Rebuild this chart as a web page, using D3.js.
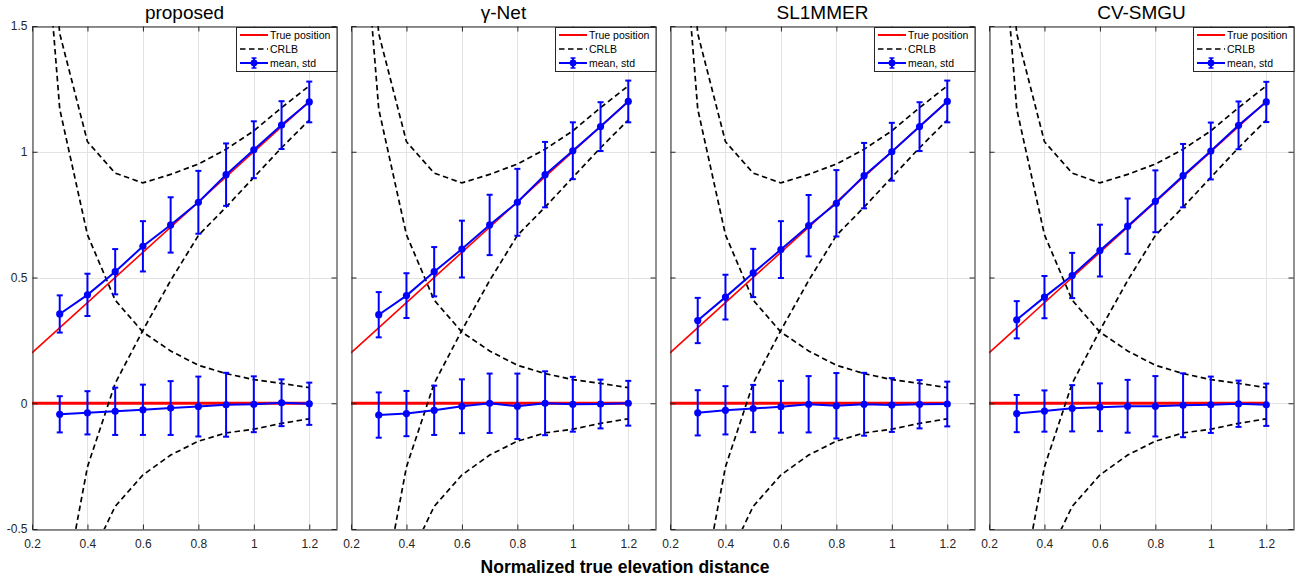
<!DOCTYPE html>
<html><head><meta charset="utf-8">
<script src="https://cdn.jsdelivr.net/npm/d3@7/dist/d3.min.js"></script>
<style>body{margin:0;background:#fff}svg{display:block}</style>
</head><body><svg id="c" width="1296" height="579"></svg>
<script>
// ---------------- data ----------------
const methods = ['proposed', 'γ-Net', 'SL1MMER', 'CV-SMGU'];
const xTickValues = [0.2, 0.4, 0.6, 0.8, 1.0, 1.2];
const xTickLabels = ['0.2', '0.4', '0.6', '0.8', '1', '1.2'];
const yTickValues = [-0.5, 0, 0.5, 1, 1.5];
const yTickLabels = ['-0.5', '0', '0.5', '1', '1.5'];
const legendLabels = ['True position', 'CRLB', 'mean, std'];
const xLabel = 'Normalized true elevation distance';

// true positions
const trueX = [0.2, 1.2];
const trueUpper = [0.2, 1.2];
const trueLower = [0, 0];

// CRLB bounds
const crlbX = [0.2, 0.3, 0.4, 0.5, 0.6, 0.7, 0.8, 0.9, 1.0, 1.1, 1.2];
const crlbUpperHi = [2.75, 1.47, 1.04, 0.915, 0.876, 0.91, 0.951, 1.01, 1.083, 1.175, 1.262];
const crlbUpperLo = [-2.35, -0.84, -0.253, 0.079, 0.29, 0.488, 0.667, 0.78, 0.898, 1.016, 1.126];
const crlbLowerHi = [2.55, 1.17, 0.67, 0.41, 0.283, 0.208, 0.151, 0.118, 0.094, 0.079, 0.062];
const crlbLowerLo = [-2.55, -1.17, -0.64, -0.41, -0.285, -0.206, -0.151, -0.118, -0.103, -0.08, -0.062];

// estimates (mean, std)
const estX = [0.3, 0.4, 0.5, 0.6, 0.7, 0.8, 0.9, 1.0, 1.1, 1.2];
const proposedUpperMean = [0.355, 0.431, 0.523, 0.624, 0.709, 0.799, 0.909, 1.008, 1.106, 1.198];
const proposedUpperStd  = [0.074, 0.084, 0.090, 0.100, 0.110, 0.125, 0.124, 0.113, 0.095, 0.081];
const proposedLowerMean = [-0.044, -0.038, -0.032, -0.026, -0.019, -0.013, -0.006, -0.004, 0.002, -0.002];
const proposedLowerStd  = [0.072, 0.086, 0.094, 0.100, 0.107, 0.119, 0.127, 0.111, 0.093, 0.084];

const gammaUpperMean = [0.352, 0.428, 0.523, 0.613, 0.709, 0.799, 0.909, 1.004, 1.100, 1.200];
const gammaUpperStd  = [0.090, 0.089, 0.098, 0.113, 0.120, 0.133, 0.130, 0.113, 0.097, 0.083];
const gammaLowerMean = [-0.047, -0.041, -0.028, -0.012, 0.000, -0.012, 0.000, -0.004, -0.003, 0.000];
const gammaLowerStd  = [0.090, 0.090, 0.098, 0.107, 0.118, 0.130, 0.127, 0.109, 0.097, 0.089];

const slimmerUpperMean = [0.329, 0.422, 0.518, 0.611, 0.706, 0.795, 0.905, 1.000, 1.100, 1.200];
const slimmerUpperStd  = [0.090, 0.089, 0.096, 0.113, 0.122, 0.132, 0.130, 0.115, 0.097, 0.083];
const slimmerLowerMean = [-0.038, -0.028, -0.021, -0.014, -0.004, -0.010, -0.004, -0.007, -0.004, -0.003];
const slimmerLowerStd  = [0.090, 0.096, 0.094, 0.103, 0.112, 0.130, 0.125, 0.107, 0.096, 0.089];

const cvsmguUpperMean = [0.332, 0.422, 0.508, 0.607, 0.704, 0.803, 0.905, 1.003, 1.105, 1.198];
const cvsmguUpperStd  = [0.074, 0.084, 0.090, 0.103, 0.110, 0.123, 0.126, 0.113, 0.095, 0.080];
const cvsmguLowerMean = [-0.041, -0.031, -0.020, -0.016, -0.012, -0.012, -0.008, -0.006, -0.002, -0.006];
const cvsmguLowerStd  = [0.074, 0.082, 0.092, 0.095, 0.105, 0.120, 0.127, 0.112, 0.092, 0.084];

const panelSeries = [
  [[proposedUpperMean, proposedUpperStd], [proposedLowerMean, proposedLowerStd]],
  [[gammaUpperMean, gammaUpperStd], [gammaLowerMean, gammaLowerStd]],
  [[slimmerUpperMean, slimmerUpperStd], [slimmerLowerMean, slimmerLowerStd]],
  [[cvsmguUpperMean, cvsmguUpperStd], [cvsmguLowerMean, cvsmguLowerStd]]
];

// ---------------- drawing ----------------
const svg = d3.select('#c');
const FONT = '"Liberation Sans", Arial, Helvetica, sans-serif';
const AX = '#262626';
const RED = '#ff0000', BLUE = '#0000ff';
const plotTop = 26, plotBottom = 529, plotW = 305, firstLeft = 32, step = 319;

methods.forEach((name, pi) => {
  const left = firstLeft + pi * step;
  const x = d3.scaleLinear().domain([0.2, 1.3]).range([left, left + plotW]);
  const y = d3.scaleLinear().domain([-0.5, 1.5]).range([plotBottom, plotTop]);
  const g = svg.append('g');

  const clipId = 'clip' + pi;
  svg.append('clipPath').attr('id', clipId).append('rect')
    .attr('x', left).attr('y', plotTop).attr('width', plotW).attr('height', plotBottom - plotTop);

  // background
  g.append('rect').attr('x', left).attr('y', plotTop).attr('width', plotW)
    .attr('height', plotBottom - plotTop).attr('fill', '#fff');

  // grid
  g.append('g').selectAll('line').data(xTickValues).join('line')
    .attr('x1', d => Math.round(x(d)) + 0.5).attr('x2', d => Math.round(x(d)) + 0.5)
    .attr('y1', plotTop).attr('y2', plotBottom).attr('stroke', '#e3e3e3').attr('stroke-width', 1);
  g.append('g').selectAll('line').data(yTickValues).join('line')
    .attr('y1', d => Math.round(y(d)) + 0.5).attr('y2', d => Math.round(y(d)) + 0.5)
    .attr('x1', left).attr('x2', left + plotW).attr('stroke', '#e3e3e3').attr('stroke-width', 1);

  const data = g.append('g').attr('clip-path', `url(#${clipId})`);
  const line = d3.line().x(d => x(d[0])).y(d => y(d[1]));

  // true position
  data.append('path').datum(d3.zip(trueX, trueUpper)).attr('d', line)
    .attr('fill', 'none').attr('stroke', RED).attr('stroke-width', 1.6);
  data.append('path').datum(d3.zip(trueX, trueLower)).attr('d', line)
    .attr('fill', 'none').attr('stroke', RED).attr('stroke-width', 3.2);

  // CRLB
  [crlbUpperHi, crlbUpperLo, crlbLowerHi, crlbLowerLo].forEach(arr => {
    data.append('path').datum(d3.zip(crlbX, arr)).attr('d', line)
      .attr('fill', 'none').attr('stroke', '#000').attr('stroke-width', 1.7)
      .attr('stroke-dasharray', '5.5,3.5');
  });

  // mean, std
  panelSeries[pi].forEach(([means, stds]) => {
    const pts = estX.map((xv, i) => ({ x: xv, m: means[i], s: stds[i] }));
    const eb = data.append('g').attr('stroke', BLUE).attr('stroke-width', 2).attr('fill', 'none');
    pts.forEach(p => {
      const cx = x(p.x), yt = y(p.m + p.s), yb = y(p.m - p.s);
      eb.append('line').attr('x1', cx).attr('x2', cx).attr('y1', yt).attr('y2', yb);
      eb.append('line').attr('x1', cx - 3).attr('x2', cx + 3).attr('y1', yt).attr('y2', yt);
      eb.append('line').attr('x1', cx - 3).attr('x2', cx + 3).attr('y1', yb).attr('y2', yb);
    });
    data.append('path').datum(pts.map(p => [p.x, p.m])).attr('d', line)
      .attr('fill', 'none').attr('stroke', BLUE).attr('stroke-width', 2);
    data.append('g').selectAll('circle').data(pts).join('circle')
      .attr('cx', p => x(p.x)).attr('cy', p => y(p.m)).attr('r', 3.6).attr('fill', BLUE);
  });

  // axes
  const styleAxis = sel => {
    sel.selectAll('path.domain').attr('stroke', AX).attr('stroke-width', 1);
    sel.selectAll('.tick line').attr('stroke', AX).attr('stroke-width', 1);
    sel.selectAll('.tick text').attr('fill', AX).style('font-family', FONT).style('font-size', '12px');
  };
  const bottom = g.append('g').attr('transform', `translate(0,${plotBottom + 0.5})`)
    .call(d3.axisBottom(x).tickValues(xTickValues).tickFormat((d, i) => xTickLabels[i])
      .tickSizeInner(-5).tickSizeOuter(0).tickPadding(9.5));
  styleAxis(bottom);
  const top = g.append('g').attr('transform', `translate(0,${plotTop + 0.5})`)
    .call(d3.axisTop(x).tickValues(xTickValues).tickFormat('').tickSizeInner(-5).tickSizeOuter(0));
  styleAxis(top);
  const leftAx = g.append('g').attr('transform', `translate(${left + 0.5},0)`)
    .call(d3.axisLeft(y).tickValues(yTickValues)
      .tickFormat((d, i) => pi === 0 ? yTickLabels[i] : '')
      .tickSizeInner(-5).tickSizeOuter(0).tickPadding(5));
  styleAxis(leftAx);
  const rightAx = g.append('g').attr('transform', `translate(${left + plotW - 0.5},0)`)
    .call(d3.axisRight(y).tickValues(yTickValues).tickFormat('').tickSizeInner(-5).tickSizeOuter(0));
  styleAxis(rightAx);

  // title
  g.append('text').attr('x', left + plotW / 2).attr('y', 19).attr('text-anchor', 'middle')
    .style('font-family', FONT).style('font-size', '19px').attr('fill', '#000').text(name);

  // legend
  const lx = left + plotW - 101, ly = plotTop + 1, lw = 100.5, lh = 44;
  const lg = g.append('g');
  lg.append('rect').attr('x', lx + 0.5).attr('y', ly + 0.5).attr('width', lw).attr('height', lh)
    .attr('fill', '#fff').attr('stroke', AX).attr('stroke-width', 1);
  const rows = [ly + 8, ly + 22, ly + 36];
  const sx1 = lx + 4, sx2 = lx + 32;
  lg.append('line').attr('x1', sx1).attr('x2', sx2).attr('y1', rows[0]).attr('y2', rows[0])
    .attr('stroke', RED).attr('stroke-width', 2);
  lg.append('line').attr('x1', sx1).attr('x2', sx2).attr('y1', rows[1]).attr('y2', rows[1])
    .attr('stroke', '#000').attr('stroke-width', 1.7).attr('stroke-dasharray', '5.5,3.5');
  const mcx = (sx1 + sx2) / 2;
  lg.append('line').attr('x1', sx1).attr('x2', sx2).attr('y1', rows[2]).attr('y2', rows[2])
    .attr('stroke', BLUE).attr('stroke-width', 2);
  lg.append('line').attr('x1', mcx).attr('x2', mcx).attr('y1', rows[2] - 5).attr('y2', rows[2] + 5)
    .attr('stroke', BLUE).attr('stroke-width', 2);
  [-5, 5].forEach(o => lg.append('line').attr('x1', mcx - 2.5).attr('x2', mcx + 2.5)
    .attr('y1', rows[2] + o).attr('y2', rows[2] + o).attr('stroke', BLUE).attr('stroke-width', 1.5));
  lg.append('circle').attr('cx', mcx).attr('cy', rows[2]).attr('r', 3.4).attr('fill', BLUE);
  legendLabels.forEach((t, i) => {
    lg.append('text').attr('x', sx2 + 2).attr('y', rows[i]).attr('dy', '0.35em')
      .style('font-family', FONT).style('font-size', '10.5px').attr('fill', '#000').text(t);
  });
});

// x label
svg.append('text').attr('x', 625).attr('y', 573).attr('text-anchor', 'middle')
  .style('font-family', FONT).style('font-size', '17.5px').style('font-weight', 'bold')
  .attr('fill', '#000').text(xLabel);
</script>
</body></html>
